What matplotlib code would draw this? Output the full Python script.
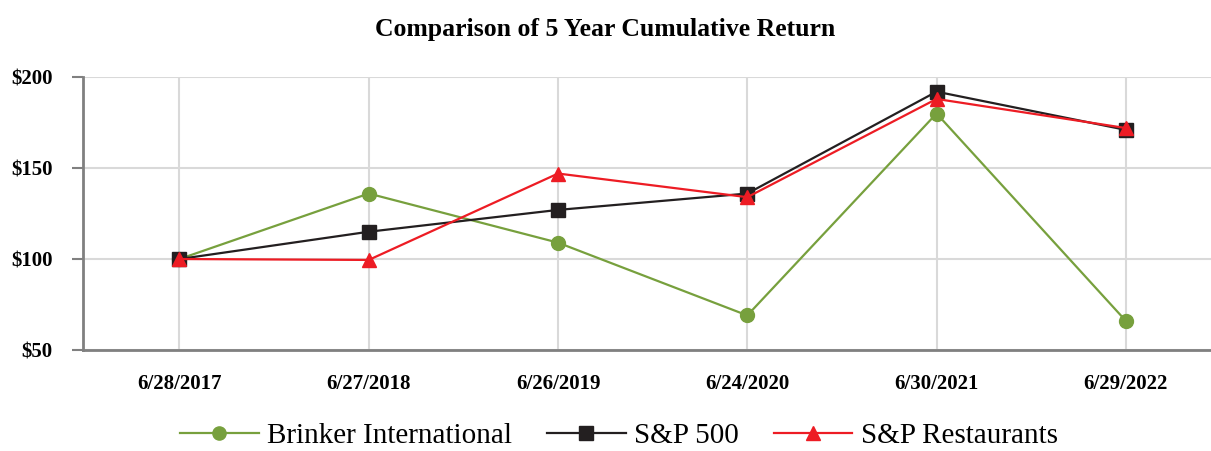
import matplotlib.pyplot as plt

dates = ["6/28/2017", "6/27/2018", "6/26/2019", "6/24/2020", "6/30/2021", "6/29/2022"]
brinker = [100, 136, 109, 69, 180, 66]
sp500 = [100, 115, 127, 136, 192, 171]
sp_rest = [100, 99.5, 147, 134, 188, 172]

plt.rcParams["font.family"] = ["Liberation Serif", "DejaVu Serif"]

fig = plt.figure(figsize=(12.11, 4.51), dpi=100)
ax = fig.add_axes([0.0685, 0.224, 0.9315, 0.605])

x = range(len(dates))
ax.plot(x, brinker, color="#77a03d", lw=1.6, marker="o", ms=10, label="Brinker International")
ax.plot(x, sp500, color="#231f20", lw=1.6, marker="s", ms=10, label="S&P 500")
ax.plot(x, sp_rest, color="#ed1c24", lw=1.6, marker="^", ms=10, label="S&P Restaurants")

ax.set_ylim(50, 200)
ax.set_yticks([50, 100, 150, 200])
ax.set_yticklabels(["$50", "$100", "$150", "$200"], fontsize=15, fontweight="bold")
ax.set_xlim(-0.51, 5.45)
ax.set_xticks(list(x))
ax.set_xticklabels(dates, fontsize=15, fontweight="bold")
ax.tick_params(axis="x", length=0, pad=17)
ax.tick_params(axis="y", length=8, width=1.5, color="#808080", pad=14)

ax.grid(True, color="#d9d9d9", lw=1.5)
ax.set_axisbelow(True)
for s in ["top", "right"]:
    ax.spines[s].set_visible(False)
for s in ["left", "bottom"]:
    ax.spines[s].set_color("#808080")
    ax.spines[s].set_linewidth(2)

fig.suptitle("Comparison of 5 Year Cumulative Return", fontsize=18.5, fontweight="bold", y=0.96)

fig.legend(loc="center", bbox_to_anchor=(0.511, 0.034), ncol=3, frameon=False, borderpad=0,
           fontsize=21, handlelength=2.7, markerscale=0.95, columnspacing=1.2, handletextpad=0.28)

fig.savefig("out.png", dpi=100)
